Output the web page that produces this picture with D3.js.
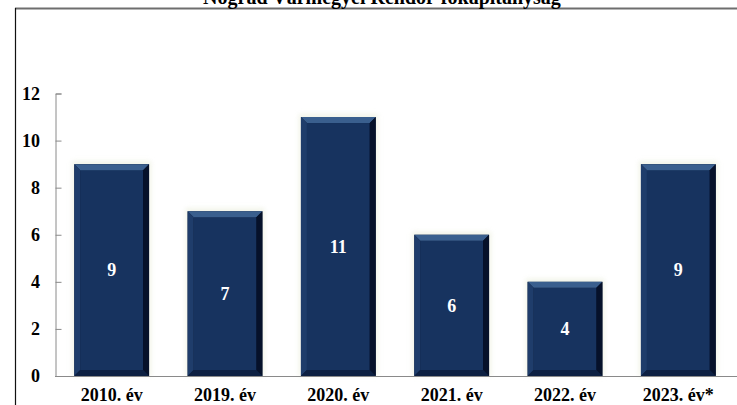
<!DOCTYPE html>
<html><head><meta charset="utf-8">
<script src="https://cdn.jsdelivr.net/npm/d3@7"></script>
<style>body{margin:0;background:#fff}svg{display:block}</style>
</head><body>
<script>
const title = "Nógrád Vármegyei Rendőr-főkapitányság";
const categories = ["2010. év","2019. év","2020. év","2021. év","2022. év","2023. év*"];
const values = [9,7,11,6,4,9];
const yTicks = [0,2,4,6,8,10,12];

const W=737,H=405;
const svg=d3.select("body").append("svg").attr("width",W).attr("height",H);
const font="'Liberation Serif','Times New Roman',serif";

// frame
svg.append("line").attr("x1",15).attr("x2",W).attr("y1",8.5).attr("y2",8.5).attr("stroke","#6e6e6e").attr("stroke-width",2);
svg.append("line").attr("x1",15.5).attr("x2",15.5).attr("y1",8).attr("y2",H).attr("stroke","#111").attr("stroke-width",1.2);

svg.append("text").attr("x",382).attr("y",4).attr("text-anchor","middle")
  .attr("font-family",font).attr("font-weight","bold").attr("font-size",20).attr("fill","#000").text(title);

const x=d3.scaleBand().domain(categories).range([55,735]).paddingInner(0.34).paddingOuter(0.17);
const y=d3.scaleLinear().domain([0,12]).range([376,93.5]);

const defs=svg.append("defs");
const f=defs.append("filter").attr("id","glow").attr("x","-20%").attr("y","-20%").attr("width","140%").attr("height","140%");
f.append("feGaussianBlur").attr("stdDeviation",2.5);

// axes
const ya=svg.append("g").attr("transform","translate(55.5,0)")
  .call(d3.axisRight(y).tickValues(yTicks).tickSize(6).tickFormat(""));
ya.select(".domain").attr("stroke","#8a8a8a");
ya.selectAll(".tick line").attr("stroke","#8a8a8a");
svg.selectAll(".ylab").data(yTicks).join("text").attr("class","ylab")
  .attr("x",40).attr("y",d=>y(d)).attr("dy","0.35em").attr("text-anchor","end")
  .attr("font-family",font).attr("font-weight","bold").attr("font-size",18).text(d=>d);

const bars=svg.selectAll(".bar").data(values).join("g").attr("class","bar");
const bw=x.bandwidth(), bev=6;
bars.append("rect").attr("x",(d,i)=>x(categories[i])-2).attr("y",d=>y(d)-3)
  .attr("width",bw+4).attr("height",d=>y(0)-y(d)+3).attr("fill","#e8ecd8").attr("opacity",0.6).attr("filter","url(#glow)");
bars.append("rect").attr("x",(d,i)=>x(categories[i])).attr("y",d=>y(d))
  .attr("width",bw).attr("height",d=>y(0)-y(d)).attr("fill","#0b1a36");
// main face
bars.append("rect").attr("x",(d,i)=>x(categories[i])+bev).attr("y",d=>y(d)+bev)
  .attr("width",bw-2*bev).attr("height",d=>y(0)-y(d)-2*bev).attr("fill","#17335f");
// top bevel
bars.append("path").attr("d",(d,i)=>{const x0=x(categories[i]),y0=y(d);
  return `M${x0},${y0}L${x0+bw},${y0}L${x0+bw-bev},${y0+bev}L${x0+bev},${y0+bev}Z`;}).attr("fill","#3a5f8e");
// left bevel
bars.append("path").attr("d",(d,i)=>{const x0=x(categories[i]),y0=y(d),y1=y(0);
  return `M${x0},${y0}L${x0+bev},${y0+bev}L${x0+bev},${y1-bev}L${x0},${y1}Z`;}).attr("fill","#1f3d6b");
// right bevel
bars.append("path").attr("d",(d,i)=>{const x0=x(categories[i]),y0=y(d),y1=y(0);
  return `M${x0+bw},${y0}L${x0+bw-bev},${y0+bev}L${x0+bw-bev},${y1-bev}L${x0+bw},${y1}Z`;}).attr("fill","#06112a");
// bottom bevel
bars.append("path").attr("d",(d,i)=>{const x0=x(categories[i]),y1=y(0);
  return `M${x0},${y1}L${x0+bev},${y1-bev}L${x0+bw-bev},${y1-bev}L${x0+bw},${y1}Z`;}).attr("fill","#0d2042");

bars.append("text").attr("x",(d,i)=>x(categories[i])+bw/2).attr("y",d=>(y(d)+y(0))/2).attr("dy","0.35em")
  .attr("text-anchor","middle").attr("font-family",font).attr("font-weight","bold").attr("font-size",18)
  .attr("fill","#fff").text(d=>d);

// x axis
const xa=svg.append("g").attr("transform","translate(0,376.5)").call(d3.axisBottom(x).tickSize(0).tickFormat(""));
xa.select(".domain").attr("stroke","#8a8a8a").attr("d","M55,0H737");
svg.selectAll(".xlab").data(categories).join("text").attr("class","xlab")
  .attr("x",d=>x(d)+bw/2).attr("y",401).attr("text-anchor","middle")
  .attr("font-family",font).attr("font-weight","bold").attr("font-size",18).text(d=>d);
</script>
</body></html>
